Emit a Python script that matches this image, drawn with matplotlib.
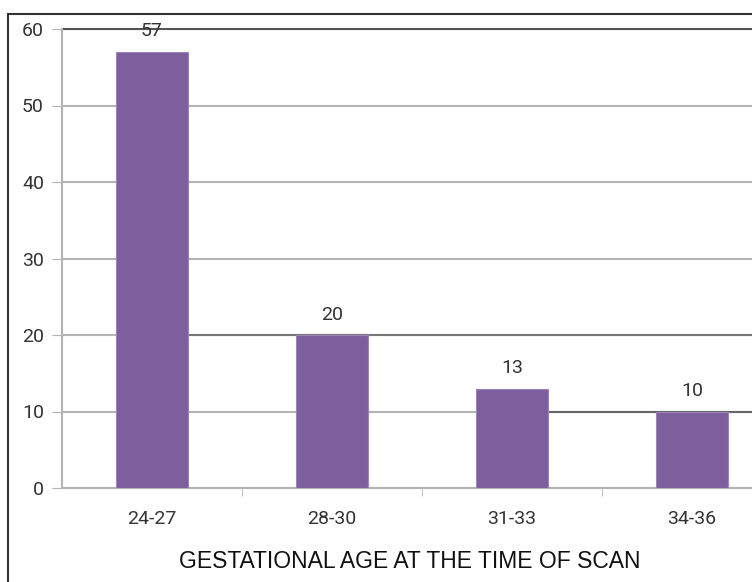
import matplotlib
matplotlib.use('Agg')
import matplotlib.pyplot as plt
from matplotlib.patches import Rectangle

age_groups = ['24-27', '28-30', '31-33', '34-36']
scans = [57, 20, 13, 10]
y_ticks = [0, 10, 20, 30, 40, 50, 60]

bar_color = '#7e5f9e'
grid_color = '#b4b4b4'
num_font = ['Roboto', 'DejaVu Sans']

fig = plt.figure(figsize=(7.52, 5.82), dpi=100)
ax = fig.add_axes([62 / 752, 94 / 582, 720 / 752, 459 / 582])

x = list(range(len(age_groups)))
ax.bar(x, scans, width=0.4, color=bar_color, edgecolor='#9a84b8', linewidth=0.8, zorder=3)

for xi, v in zip(x, scans):
    ax.text(xi, v + 1.5, str(v), ha='center', va='bottom', fontsize=14,
            family=num_font, color='#333333', zorder=4)

ax.set_xlim(-0.5, 3.5)
ax.set_ylim(0, 60)
ax.set_yticks(y_ticks)
ax.set_xticks(x)
ax.set_xticklabels(age_groups)
ax.set_xticks([0.5, 1.5, 2.5, 3.5], minor=True)
ax.tick_params(axis='x', which='major', length=0, pad=16, labelsize=14, labelcolor='#333333')
ax.tick_params(axis='x', which='minor', length=6, color=grid_color, direction='out')
ax.tick_params(axis='y', length=7, color=grid_color, pad=6, labelsize=14, labelcolor='#333333')
for lbl in ax.get_xticklabels() + ax.get_yticklabels():
    lbl.set_family(num_font)

ax.yaxis.grid(True, color=grid_color, linewidth=1.5, zorder=1)
# darker stretches of a few gridlines
ax.hlines(60, -0.5, 3.5, color='#555555', linewidth=1.5, zorder=2, clip_on=False)
ax.hlines(20, 0.2, 3.5, color='#777777', linewidth=1.5, zorder=2)
ax.hlines(10, 2.2, 3.5, color='#666666', linewidth=1.5, zorder=2)

for side in ['top', 'right']:
    ax.spines[side].set_visible(False)
for side in ['left', 'bottom']:
    ax.spines[side].set_color(grid_color)
    ax.spines[side].set_linewidth(1.5)

fig.text(410 / 752, 1 - 561 / 582, 'GESTATIONAL AGE AT THE TIME OF SCAN', ha='center', va='center',
         fontsize=16.5, family=['Liberation Sans', 'DejaVu Sans'], color='#111111')

# frame around the chart
fig.patches.append(Rectangle((8 / 752, -0.05), 1.0, 1 - 14 / 582 + 0.05, transform=fig.transFigure,
                             fill=False, edgecolor='#333333', linewidth=1.5))

fig.savefig('out.png', dpi=100)
